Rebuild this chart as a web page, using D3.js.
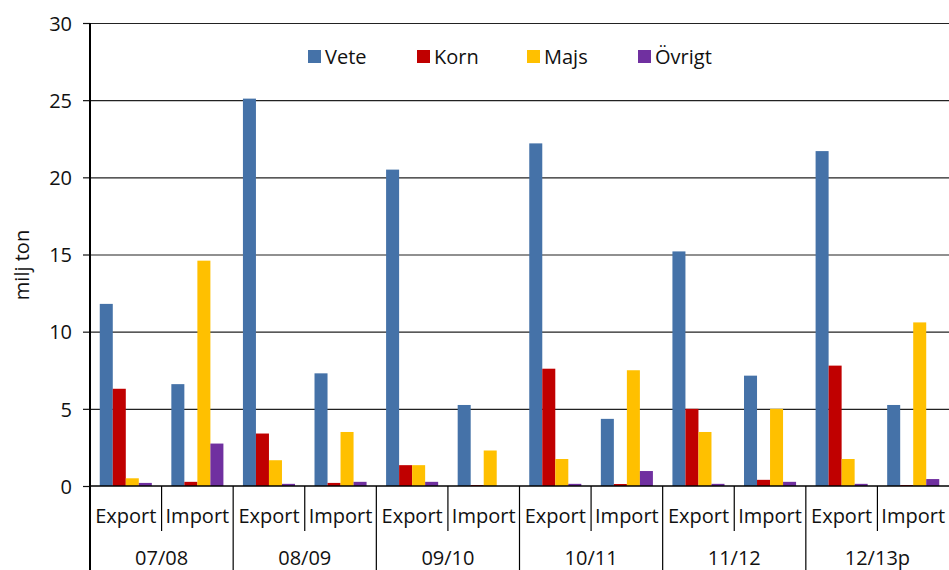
<!DOCTYPE html>
<html>
  <head>
    <meta charset="utf-8">
    <title>Export och import</title>
    <script src="https://d3js.org/d3.v7.min.js"></script>
    <style>
      body { margin: 0; background: #fff; }
      svg { display: block; font-family: "Open Sans", sans-serif; }
      .axis text { font-family: "Open Sans", sans-serif; font-size: 20px; fill: #111; }
      .grid line { stroke: #222; stroke-width: 1.2; }
      .grid path { display: none; }
      .legend text { font-family: "Open Sans", sans-serif; font-size: 20px; fill: #111; }
    </style>
  </head>
  <body>
    <svg id="chart" width="949" height="570"></svg>
    <script>
      // chart data (milj ton)
      var years = ["07/08", "08/09", "09/10", "10/11", "11/12", "12/13p"];
      var flows = ["Export", "Import"];
      var series = ["Vete", "Korn", "Majs", "Övrigt"];
      var colors = ["#4572a8", "#c00000", "#ffc000", "#7030a0"];
      var vete   = [11.8, 6.6, 25.1, 7.3, 20.5, 5.25, 22.2, 4.35, 15.2, 7.15, 21.7, 5.25];
      var korn   = [6.3, 0.27, 3.4, 0.2, 1.35, 0.06, 7.6, 0.13, 5.0, 0.4, 7.8, 0.06];
      var majs   = [0.5, 14.6, 1.67, 3.5, 1.35, 2.3, 1.75, 7.5, 3.5, 5.0, 1.75, 10.6];
      var ovrigt = [0.2, 2.75, 0.14, 0.27, 0.27, 0, 0.14, 0.97, 0.14, 0.27, 0.14, 0.45];
      var yTicks = [0, 5, 10, 15, 20, 25, 30];

      var values = [vete, korn, majs, ovrigt];
      var slots = [];
      years.forEach(function(y) {
        flows.forEach(function(f) { slots.push(y + "|" + f); });
      });
      var data = slots.map(function(s, i) {
        return { slot: s, flow: s.split("|")[1], vals: series.map(function(k, j) { return { key: k, i: j, v: values[j][i] }; }) };
      });

      var margin = { top: 23, right: 0, bottom: 84, left: 90 };
      var width = 949, height = 570;
      var chart = d3.select("#chart");

      var x = d3.scaleBand()
        .domain(slots)
        .range([margin.left, width - margin.right]);
      var xInner = d3.scaleBand()
        .domain(series)
        .range([0, x.bandwidth()])
        .paddingOuter(0.75);
      var y = d3.scaleLinear()
        .domain([0, 30])
        .range([height - margin.bottom, margin.top]);

      // gridlines
      chart.append("g")
        .attr("class", "grid")
        .attr("transform", "translate(" + margin.left + ",0)")
        .call(d3.axisLeft(y).tickValues(yTicks.slice(1)).tickSize(-(width - margin.left - margin.right)).tickFormat(""));

      // bars
      var groups = chart.append("g")
        .selectAll("g")
        .data(data)
        .enter().append("g")
          .attr("transform", function(d) { return "translate(" + x(d.slot) + ",0)"; });
      groups.selectAll("rect")
        .data(function(d) { return d.vals; })
        .enter().append("rect")
          .attr("x", function(d) { return xInner(d.key); })
          .attr("width", xInner.bandwidth())
          .attr("y", function(d) { return y(d.v); })
          .attr("height", function(d) { return y(0) - y(d.v); })
          .attr("fill", function(d) { return colors[d.i]; });

      // y axis
      var yAxisGroup = chart.append("g")
        .attr("class", "axis")
        .attr("transform", "translate(" + margin.left + ",0)")
        .call(d3.axisLeft(y).tickValues(yTicks).tickSize(7).tickPadding(11).tickSizeOuter(0));
      yAxisGroup.select(".domain").remove();
      yAxisGroup.selectAll("line").attr("stroke", "#111").attr("stroke-width", 1.2);
      yAxisGroup.selectAll("text").attr("dy", "0.36em");
      chart.append("line")
        .attr("x1", margin.left).attr("x2", margin.left)
        .attr("y1", margin.top).attr("y2", height)
        .attr("stroke", "#000").attr("stroke-width", 2);

      // x axis line
      var y0 = y(0);
      chart.append("line")
        .attr("x1", margin.left).attr("x2", width)
        .attr("y1", y0).attr("y2", y0)
        .attr("stroke", "#000").attr("stroke-width", 1.5);

      // category separators and labels
      var sep = chart.append("g");
      slots.forEach(function(s, i) {
        if (i === 0) return;
        var isGroup = i % 2 === 0;
        sep.append("line")
          .attr("x1", x(s)).attr("x2", x(s))
          .attr("y1", y0).attr("y2", isGroup ? height : y0 + 45)
          .attr("stroke", "#000").attr("stroke-width", 1.2);
      });
      var labels = chart.append("g").attr("class", "axis");
      labels.selectAll(".flow")
        .data(data)
        .enter().append("text")
          .attr("class", "flow")
          .attr("x", function(d) { return x(d.slot) + x.bandwidth() / 2; })
          .attr("y", y0 + 37)
          .attr("text-anchor", "middle")
          .text(function(d) { return d.flow; });
      labels.selectAll(".year")
        .data(years)
        .enter().append("text")
          .attr("class", "year")
          .attr("x", function(d) { return x(d + "|Export") + x.bandwidth(); })
          .attr("y", y0 + 79)
          .attr("text-anchor", "middle")
          .text(function(d) { return d; });

      // y label
      chart.append("text")
        .attr("transform", "translate(29,265) rotate(-90)")
        .attr("text-anchor", "middle")
        .style("font-size", "20px")
        .attr("fill", "#111")
        .text("milj ton");

      // legend
      var legendX = [308, 417, 527, 638];
      var legend = chart.append("g").attr("class", "legend");
      series.forEach(function(k, i) {
        legend.append("rect")
          .attr("x", legendX[i]).attr("y", 50)
          .attr("width", 13).attr("height", 13)
          .attr("fill", colors[i]);
        legend.append("text")
          .attr("x", legendX[i] + 17).attr("y", 64)
          .text(k);
      });
    </script>
  </body>
</html>
